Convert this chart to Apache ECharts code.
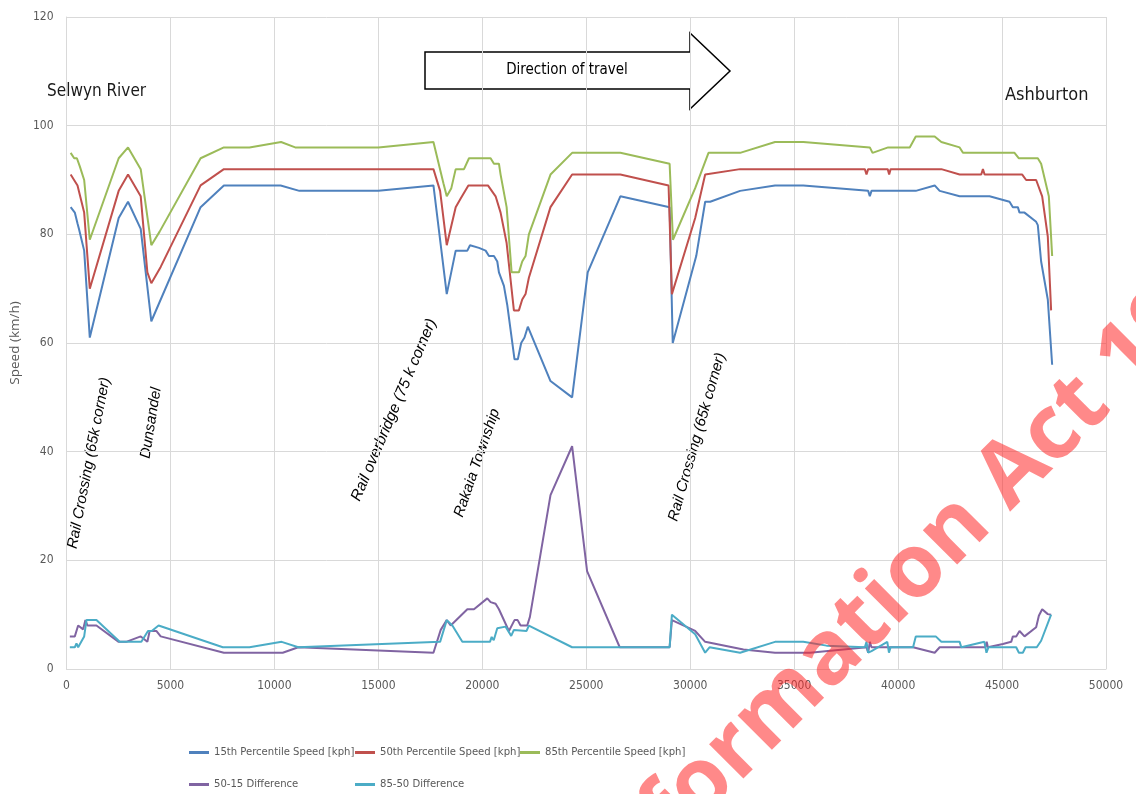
<!DOCTYPE html>
<html>
<head>
<meta charset="utf-8">
<script src="https://cdn.jsdelivr.net/npm/echarts@6/dist/echarts.min.js"></script>
<style>html,body{margin:0;padding:0;background:#fff}#c{width:1136px;height:794px}</style>
</head>
<body>
<div id="c"></div>
<script>
// ---- Data (distance in m, speed in km/h) ----
var seriesNames = ['15th Percentile Speed [kph]', '50th Percentile Speed [kph]', '85th Percentile Speed [kph]', '50-15 Difference', '85-50 Difference'];

var p15X = [200, 400, 530, 600, 850, 1120, 2510, 2960, 3570, 4080, 6450, 7570, 10300, 11200, 15000, 17650, 18290, 18720, 19280, 19410, 19840, 20160, 20320, 20560, 20720, 20800, 21040, 21200, 21550, 21710, 21870, 22030, 22190, 23280, 24320, 25070, 26640, 29010, 29160, 30290, 30720, 30960, 32400, 34080, 35440, 38560, 38640, 38720, 40850, 41760, 42000, 42960, 44400, 45360, 45520, 45760, 45840, 46080, 46640, 46720, 46880, 47200, 47410];
var p15Y = [85, 84, 82, 81, 77, 61, 83, 86, 81, 64, 85, 89, 89, 88, 88, 89, 69, 77, 77, 78, 77.5, 77, 76, 76, 75, 73, 70.5, 67, 57, 57, 60, 61, 63, 53, 50, 73, 87, 85, 60, 76, 86, 86, 88, 89, 89, 88, 87, 88, 88, 89, 88, 87, 87, 86, 85, 85, 84, 84, 82.3, 81.7, 75, 68, 56];

var p50X = [200, 530, 850, 1120, 2510, 2960, 3570, 3890, 4080, 4530, 6450, 7570, 17650, 17970, 18290, 18720, 18960, 19330, 20270, 20640, 20880, 21170, 21520, 21760, 21920, 22080, 22240, 23280, 24320, 26640, 28960, 29120, 30240, 30720, 32400, 38400, 38480, 38560, 39500, 39570, 39640, 42080, 42960, 44000, 44080, 44160, 45970, 46160, 46640, 46930, 47200, 47360];
var p50Y = [91, 89, 84, 70, 88, 91, 87, 73, 71, 74, 89, 92, 92, 88, 78, 85, 86.6, 89, 89, 87, 84, 78.4, 66, 66, 68, 69, 72, 85, 91, 91, 89, 69, 83, 91, 92, 92, 91, 92, 92, 91, 92, 92, 91, 91, 92, 91, 91, 90, 90, 87, 79.6, 66];

var p85X = [200, 370, 500, 640, 850, 1120, 2510, 2960, 3570, 4080, 4480, 6450, 7570, 8800, 10320, 11000, 15000, 17650, 18130, 18290, 18510, 18720, 19120, 19360, 20400, 20560, 20800, 20880, 21170, 21410, 21760, 21920, 22080, 22240, 23280, 24320, 26640, 29010, 29170, 30240, 30880, 32400, 34080, 35440, 38640, 38770, 39520, 40560, 40850, 41760, 42080, 42960, 43120, 45600, 45810, 46720, 46880, 47250, 47410];
var p85Y = [95, 94, 94, 92.5, 90, 79, 94, 96, 92, 78, 80.5, 94, 96, 96, 97, 96, 96, 97, 89.4, 87, 88.5, 92, 92, 94, 94, 93, 93, 91, 85, 73, 73, 75, 76, 80, 91, 95, 95, 93, 79, 88.5, 95, 95, 97, 97, 96, 95, 96, 96, 98, 98, 97, 96, 95, 95, 94, 94, 93, 87, 76];

var d5015X = [160, 400, 560, 800, 910, 1010, 1440, 2510, 2870, 3570, 3890, 4000, 4320, 4530, 7570, 10400, 11150, 17650, 18000, 18290, 18480, 19280, 19600, 20240, 20400, 20640, 20800, 21280, 21550, 21700, 21840, 22160, 22290, 23280, 24320, 25040, 26610, 29010, 29120, 30240, 30720, 32560, 34080, 35760, 38480, 38560, 38640, 38720, 40720, 41760, 42000, 44200, 44260, 44320, 45040, 45440, 45520, 45680, 45840, 46080, 46640, 46770, 46930, 47200, 47360];
var d5015Y = [6, 6, 8, 7.3, 9, 8, 8, 5, 5, 6, 5, 7, 7, 6, 3, 3, 4, 3, 7.2, 9, 8, 11, 11, 13, 12.3, 12, 11, 7, 9, 9, 8, 8, 9.6, 32, 41, 18, 4, 4, 9, 7, 5, 3.6, 3, 3, 4, 3, 5, 4, 4, 3, 4, 4, 5, 4, 4.6, 5, 6, 6, 7, 6, 7.7, 9.8, 11, 10.1, 10];

var d8550X = [160, 400, 480, 560, 850, 960, 1440, 2560, 3600, 3920, 4100, 4430, 7520, 8800, 10350, 11150, 17970, 18290, 18560, 19040, 20370, 20450, 20550, 20720, 21120, 21390, 21520, 22130, 22240, 24320, 29010, 29120, 30240, 30720, 30930, 32400, 34080, 35440, 36560, 38400, 38480, 38560, 38720, 39480, 39560, 39640, 40720, 40850, 41810, 42080, 42960, 43040, 44150, 44250, 44350, 45680, 45810, 46000, 46130, 46670, 46880, 47360];
var d8550Y = [4, 4, 4.7, 4, 6, 9, 9, 5, 5, 7, 7, 8, 4, 4, 5, 4, 5, 9, 8, 5, 5, 5.9, 5.3, 7.5, 7.8, 6.1, 7.2, 7, 8, 4, 4, 10, 6.4, 3, 4, 3, 5, 5, 4.3, 4, 5, 3, 3.3, 5, 3, 4, 4, 6, 6, 5, 5, 4, 5, 3, 4, 4, 3, 3, 4, 4, 5.2, 10];

var xTicks = {min: 0, max: 50000, interval: 5000};
var yTicks = {min: 0, max: 120, interval: 20};

var colors = ['#4F81BD', '#C0504D', '#9BBB59', '#8064A2', '#4BACC6'];

function pairs(xs, ys) { return xs.map(function (x, i) { return [x, ys[i]]; }); }
var allData = [pairs(p15X, p15Y), pairs(p50X, p50Y), pairs(p85X, p85Y), pairs(d5015X, d5015Y), pairs(d8550X, d8550Y)];

var narrow = "'Liberation Sans Narrow', 'DejaVu Sans Condensed', sans-serif";
var legendPos = [[184, 742], [350, 742], [515, 742], [184, 774], [350, 774]];

var chart = echarts.init(document.getElementById('c'), null, {renderer: 'canvas'});
chart.setOption({
  animation: false,
  backgroundColor: '#fff',
  color: colors,
  grid: {left: 65, right: 30, top: 17, bottom: 125, containLabel: false},
  legend: seriesNames.map(function (n, i) {
    return {
      data: [n], left: legendPos[i][0], top: legendPos[i][1],
      icon: 'rect', itemWidth: 20, itemHeight: 3,
      textStyle: {color: '#595959', fontSize: 11.2, fontFamily: narrow},
      selectedMode: false
    };
  }),
  xAxis: {
    type: 'value', min: xTicks.min, max: xTicks.max, interval: xTicks.interval,
    axisLine: {show: true, lineStyle: {color: '#d9d9d9', width: 1}},
    axisTick: {show: false},
    axisLabel: {color: '#595959', fontSize: 12, fontFamily: narrow, margin: 11,
      formatter: function (v) { return String(v); }},
    splitLine: {show: true, lineStyle: {color: '#d9d9d9', width: 1}}
  },
  yAxis: {
    type: 'value', min: yTicks.min, max: yTicks.max, interval: yTicks.interval,
    name: 'Speed (km/h)', nameLocation: 'middle', nameGap: 42,
    nameTextStyle: {color: '#595959', fontSize: 13.5, fontFamily: "'Open Sans', sans-serif"},
    axisLine: {show: true, lineStyle: {color: '#d9d9d9', width: 1}},
    axisTick: {show: false},
    axisLabel: {color: '#595959', fontSize: 12, fontFamily: narrow, margin: 13},
    splitLine: {show: true, lineStyle: {color: '#d9d9d9', width: 1}}
  },
  series: seriesNames.map(function (n, i) {
    return {
      name: n, type: 'line', data: allData[i], symbol: 'none', showSymbol: false,
      lineStyle: {width: 2, color: colors[i]}, itemStyle: {color: colors[i]}
    };
  }),
  graphic: [
    {type: 'text', left: 47, top: 83, style: {text: 'Selwyn River', fontSize: 17, fontFamily: narrow, fill: '#1a1a1a'}},
    {type: 'text', left: 1005, top: 86, style: {text: 'Ashburton', fontSize: 18, fontFamily: narrow, fill: '#1a1a1a'}},
    {type: 'polygon', shape: {points: [[425, 52], [690, 52], [690, 33], [730, 71], [690, 109], [690, 89], [425, 89]]},
      style: {fill: '#fff', stroke: '#000', lineWidth: 1.5}},
    {type: 'text', x: 567, y: 70, style: {text: 'Direction of travel', fontSize: 15, fontFamily: narrow, fill: '#000', align: 'center', verticalAlign: 'middle'}},
    {type: 'text', x: 89, y: 463, rotation: 79 * Math.PI / 180, style: {text: 'Rail Crossing (65k corner)', fontSize: 15, fontStyle: 'italic', fontFamily: "'Liberation Sans', sans-serif", fill: '#000', align: 'center', verticalAlign: 'middle'}},
    {type: 'text', x: 151, y: 423, rotation: 81 * Math.PI / 180, style: {text: 'Dunsandel', fontSize: 15, fontStyle: 'italic', fontFamily: "'Liberation Sans', sans-serif", fill: '#000', align: 'center', verticalAlign: 'middle'}},
    {type: 'text', x: 394, y: 410, rotation: 67 * Math.PI / 180, style: {text: 'Rail overbridge (75 k corner)', fontSize: 15.5, fontStyle: 'italic', fontFamily: "'Liberation Sans', sans-serif", fill: '#000', align: 'center', verticalAlign: 'middle'}},
    {type: 'text', x: 477, y: 463, rotation: 71 * Math.PI / 180, style: {text: 'Rakaia Township', fontSize: 15, fontStyle: 'italic', fontFamily: "'Liberation Sans', sans-serif", fill: '#000', align: 'center', verticalAlign: 'middle'}},
    {type: 'text', x: 697, y: 437, rotation: 74 * Math.PI / 180, style: {text: 'Rail Crossing (65k corner)', fontSize: 15, fontStyle: 'italic', fontFamily: "'Liberation Sans', sans-serif", fill: '#000', align: 'center', verticalAlign: 'middle'}},
    {type: 'text', x: 595, y: 891, rotation: 45 * Math.PI / 180, z: 100,
      style: {text: 'Information Act 1982', fontSize: 89, fontWeight: 'bold', fontFamily: "'Open Sans', sans-serif", fill: 'rgba(255,40,40,0.55)', align: 'left', verticalAlign: 'middle'}}
  ]
});
</script>
</body>
</html>
